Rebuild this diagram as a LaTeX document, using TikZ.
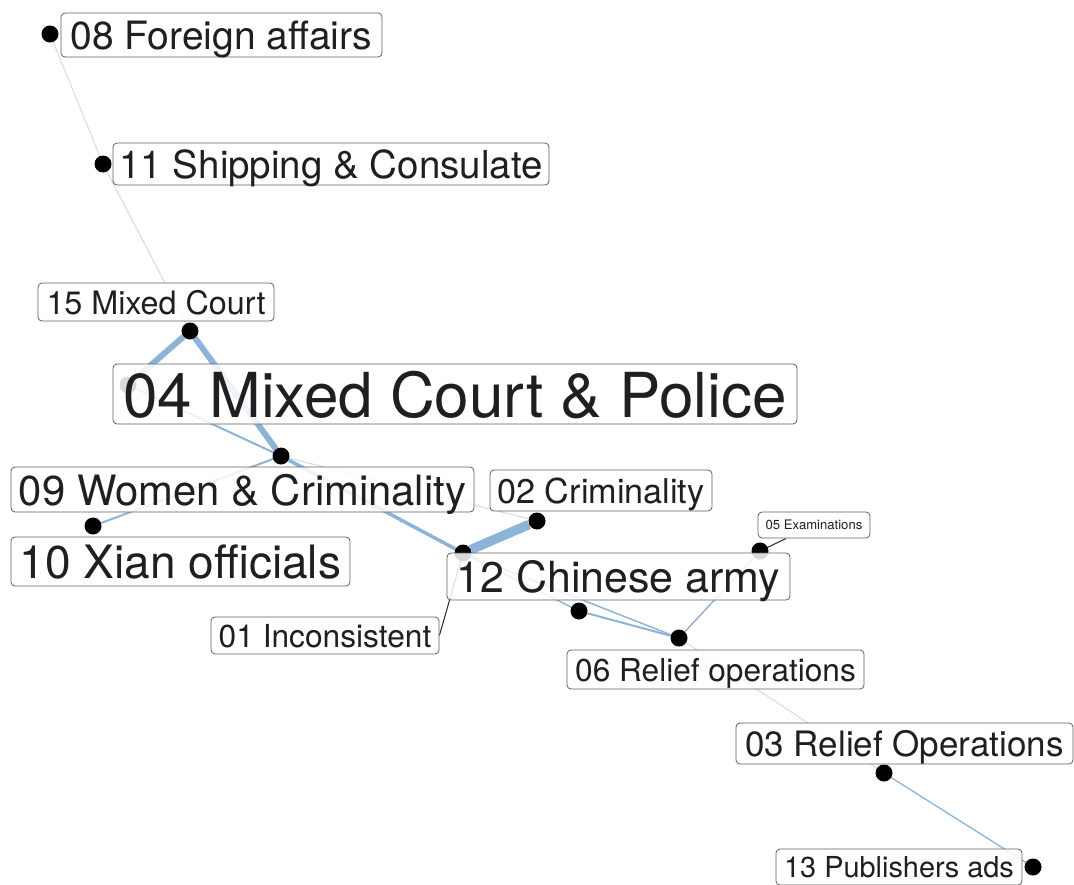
\documentclass[tikz,border=0pt]{standalone}
\usepackage{fontspec}
\setmainfont{TeX Gyre Heros}
\usepackage{tikz}
\usetikzlibrary{positioning,calc}
\definecolor{edgeblue}{RGB}{140,180,216}
\definecolor{boxline}{RGB}{95,95,95}
\newcommand{\labsize}[1]{\fontsize{#1}{#1}\selectfont}
\pgfdeclarelayer{background}
\pgfsetlayers{background,main}

\begin{document}
\begin{tikzpicture}[x=1pt,y=-1pt,
  dot/.style={circle,fill=black,inner sep=0pt,minimum size=17pt},
  lbl/.style={draw=boxline,line width=0.8pt,fill=white,fill opacity=0.85,
    text opacity=1,text=black!88,rounded corners=4pt,inner sep=0pt},
  sz/.style={font=\labsize{#1},text height={0.75*#1pt},text depth=0pt},
  link/.style={draw=edgeblue,line width=#1},
  link/.default=1.5pt,
  faint/.style={draw opacity=0.45},
  leader/.style={draw=black!85,line width=1pt}]
  \useasboundingbox (0,0) rectangle (1074,884);
  % Topic points
  \node[dot] (p08) at (50,34) {};
  \node[dot] (p11) at (103,164) {};
  \node[dot] (p15) at (190,331) {};
  \node[dot] (p04) at (128,385) {};
  \node[dot] (p09) at (281,456) {};
  \node[dot] (p10) at (93,526) {};
  \node[dot] (p02) at (537,521) {};
  \node[dot] (p01) at (463,553) {};
  \node[dot] (p05) at (760,551) {};
  \node[dot] (p12) at (579,611) {};
  \node[dot] (p06) at (679,638) {};
  \node[dot] (p03) at (884,773) {};
  \node[dot] (p13) at (1033,867) {};
  % Labels, boxed, over the points
  \node[lbl,sz=39,minimum width=321pt,minimum height=44pt] (t08) at (221.5,35) {08 Foreign affairs};
  \node[lbl,sz=38.5,minimum width=436pt,minimum height=42pt] (t11) at (331,164) {11 Shipping \& Consulate};
  \node[lbl,sz=32.3,minimum width=236pt,minimum height=38pt] (t15) at (156,302) {15 Mixed Court};
  \node[lbl,sz=62,minimum width=684pt,minimum height=60pt] (t04) at (455,394) {04 Mixed Court \& Police};
  \node[lbl,sz=41.8,minimum width=463pt,minimum height=45pt] (t09) at (242.5,489.5) {09 Women \& Criminality};
  \node[lbl,sz=46,minimum width=339pt,minimum height=49pt] (t10) at (180.5,561.5) {10 Xian officials};
  \node[lbl,sz=34.2,minimum width=222pt,minimum height=41pt] (t02) at (601,490.5) {02 Criminality};
  \node[lbl,sz=13.1,minimum width=112pt,minimum height=26pt] (t05) at (814,525) {05 Examinations};
  \node[lbl,sz=42.9,minimum width=343pt,minimum height=47pt] (t12) at (618.5,576.5) {12 Chinese army};
  \node[lbl,sz=31.7,minimum width=228pt,minimum height=37pt] (t01) at (325,635.5) {01 Inconsistent};
  \node[lbl,sz=31.6,minimum width=297pt,minimum height=39pt] (t06) at (715.5,669.5) {06 Relief operations};
  \node[lbl,sz=35,minimum width=337pt,minimum height=41pt] (t03) at (904.5,743.5) {03 Relief Operations};
  \node[lbl,sz=28.9,minimum width=246pt,minimum height=36pt] (t13) at (899,867) {13 Publishers ads};
  % Edges and leader lines go underneath
  \begin{pgfonlayer}{background}
    \draw[link=1pt,faint] (p08) -- (p11);
    \draw[link=1pt,faint] (p11) -- (p15);
    \draw[link=6pt] (p15) -- (p04);
    \draw[link=6pt] (p15) -- (p09);
    \draw[link=2pt] (p04) -- (p09);
    \draw[link=2pt] (p09) -- (p10);
    \draw[link=3.5pt] (p09) -- (p01);
    \draw[link=1pt,faint] (p09) -- (p02);
    \draw[link=9.5pt] (p01) -- (p02);
    \draw[link] (p01) -- (p12);
    \draw[link] (p01) -- (p06);
    \draw[link=2pt] (p12) -- (p06);
    \draw[link] (p06) -- (p05);
    \draw[link=1pt,faint] (p06) -- (p03);
    \draw[link=1.3pt] (p03) -- (p13);
    \draw[leader] (t01.east) -- (p01.center);
    \draw[leader] (t05) -- (p05.center);
  \end{pgfonlayer}
\end{tikzpicture}
\end{document}
